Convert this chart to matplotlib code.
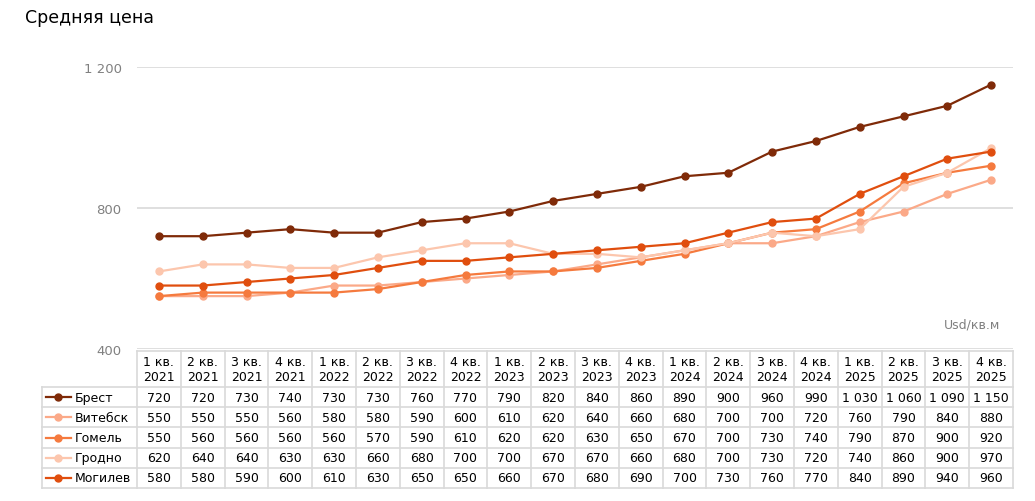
import matplotlib
matplotlib.use("Agg")
import matplotlib.pyplot as plt
from matplotlib import transforms

plt.rcParams['font.family'] = ['DejaVu Sans']

quarters = ["1 кв.\n2021", "2 кв.\n2021", "3 кв.\n2021", "4 кв.\n2021",
            "1 кв.\n2022", "2 кв.\n2022", "3 кв.\n2022", "4 кв.\n2022",
            "1 кв.\n2023", "2 кв.\n2023", "3 кв.\n2023", "4 кв.\n2023",
            "1 кв.\n2024", "2 кв.\n2024", "3 кв.\n2024", "4 кв.\n2024",
            "1 кв.\n2025", "2 кв.\n2025", "3 кв.\n2025", "4 кв.\n2025"]

cities = ["Брест", "Витебск", "Гомель", "Гродно", "Могилев"]

brest = [720, 720, 730, 740, 730, 730, 760, 770, 790, 820, 840, 860, 890, 900, 960, 990, 1030, 1060, 1090, 1150]
vitebsk = [550, 550, 550, 560, 580, 580, 590, 600, 610, 620, 640, 660, 680, 700, 700, 720, 760, 790, 840, 880]
gomel = [550, 560, 560, 560, 560, 570, 590, 610, 620, 620, 630, 650, 670, 700, 730, 740, 790, 870, 900, 920]
grodno = [620, 640, 640, 630, 630, 660, 680, 700, 700, 670, 670, 660, 680, 700, 730, 720, 740, 860, 900, 970]
mogilev = [580, 580, 590, 600, 610, 630, 650, 650, 660, 670, 680, 690, 700, 730, 760, 770, 840, 890, 940, 960]

series = [brest, vitebsk, gomel, grodno, mogilev]
colors = ["#7f2a08", "#fba988", "#f57a3e", "#fcc6ad", "#e04e0e"]
# draw order so darker lines sit on top
order = [3, 1, 2, 4, 0]

W, H = 1035, 502
fig = plt.figure(figsize=(W / 100, H / 100), dpi=100)

def fx(px):
    return px / W

def fy(py):
    return 1 - py / H

left, right, top, bottom = 137, 1013, 68, 350
ax = fig.add_axes([fx(left), fy(bottom), fx(right) - fx(left), fy(top) - fy(bottom)])

x = list(range(len(quarters)))
for k in order:
    ax.plot(x, series[k], color=colors[k], lw=1.6, marker="o", ms=5, zorder=3 + k)

ax.set_xlim(-0.5, len(quarters) - 0.5)
ax.set_ylim(400, 1200)
ax.set_yticks([400, 800, 1200])
ax.set_yticklabels(["400", "800", "1 200"], color="#808080", fontsize=9.5)
ax.tick_params(axis="y", length=0, pad=11)
ax.set_xticks([])
for s in ax.spines.values():
    s.set_visible(False)
ax.grid(axis="y", color="#d9d9d9", lw=1.2)
ax.set_axisbelow(True)

fig.text(fx(25), fy(18), "Средняя цена", fontsize=12.5, color="black", va="center", ha="left")
ax.text(0.985, fy(325), "Usd/кв.м", transform=transforms.blended_transform_factory(ax.transAxes, fig.transFigure),
        fontsize=9, color="#808080", ha="right", va="center")

# table under the chart
tr = transforms.blended_transform_factory(ax.transData, fig.transFigure)
grid_c = "#d9d9d9"
hdr_top, hdr_bot = 352, 388
row_h = 20.2
n_rows = len(cities)
tab_bot = hdr_bot + n_rows * row_h
leg_left = 42

# vertical lines of the table
for i in range(len(quarters) + 1):
    xv = i - 0.5
    ax.plot([xv, xv], [fy(hdr_top), fy(tab_bot)], transform=tr, color=grid_c, lw=1.2, clip_on=False)
fig.add_artist(plt.Line2D([fx(leg_left), fx(leg_left)], [fy(hdr_bot), fy(tab_bot)], color=grid_c, lw=1.2))
# horizontal lines
ax.plot([-0.5, len(quarters) - 0.5], [fy(hdr_top), fy(hdr_top)], transform=tr, color=grid_c, lw=1.2, clip_on=False)
for r in range(n_rows + 1):
    yy = fy(hdr_bot + r * row_h)
    fig.add_artist(plt.Line2D([fx(leg_left), fx(right)], [yy, yy], color=grid_c, lw=1.2))

for i, q in enumerate(quarters):
    ax.text(i, fy((hdr_top + hdr_bot) / 2), q, transform=tr, ha="center", va="center",
            fontsize=9, linespacing=1.15)

def fmt(v):
    return f"{v:,}".replace(",", " ")

for r, (name, vals, c) in enumerate(zip(cities, series, colors)):
    yc = fy(hdr_bot + (r + 0.5) * row_h)
    fig.add_artist(plt.Line2D([fx(46), fx(58), fx(71)], [yc, yc, yc], color=c, lw=1.6,
                              marker="o", markevery=[1], ms=5))
    fig.text(fx(75), yc, name, fontsize=9, ha="left", va="center")
    for i, v in enumerate(vals):
        ax.text(i, yc, fmt(v), transform=tr, ha="center", va="center", fontsize=9)

fig.savefig("out.png", dpi=100)
